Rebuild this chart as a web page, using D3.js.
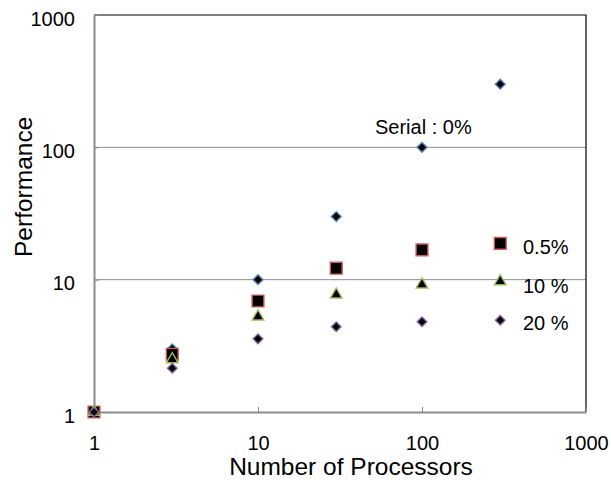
<!DOCTYPE html>
<html lang="en">
<head>
<meta charset="utf-8">
<title>Performance vs Processors</title>
<script src="https://cdn.jsdelivr.net/npm/d3@7"></script>
<style>
  body { margin: 0; background: #fff; }
  text { font-family: "Liberation Sans", Arial, sans-serif; fill: #000; }
</style>
</head>
<body>
<div id="chart"></div>
<script>
// ---------- data ----------
var processors = [1, 3, 10, 30, 100, 300];
var serial0  = [1, 3, 10, 30, 100, 300];
var serial05 = [1, 2.73, 6.9, 12.2, 16.8, 18.8];
var serial10 = [1, 2.5, 5.26, 7.7, 9.17, 9.7];
var serial20 = [1, 2.14, 3.57, 4.41, 4.81, 4.94];
var tickVals = [1, 10, 100, 1000];

var width = 611, height = 496;
var margin = {top: 15, right: 25, bottom: 84, left: 94};

var svg = d3.select("#chart").append("svg")
  .attr("width", width)
  .attr("height", height);

var x = d3.scaleLog().domain([1, 1000]).range([margin.left, width - margin.right]);
var y = d3.scaleLog().domain([1, 1000]).range([height - margin.bottom, margin.top]);

// gridlines at 10 and 100
svg.append("g").selectAll("line")
  .data([10, 100])
  .join("line")
  .attr("x1", x(1)).attr("x2", x(1000))
  .attr("y1", d => y(d)).attr("y2", d => y(d))
  .attr("stroke", "#8c8c8c")
  .attr("stroke-width", 1);

// top / right border
svg.append("path")
  .attr("d", "M" + x(1) + "," + y(1000) + "H" + x(1000) + "V" + y(1))
  .attr("fill", "none")
  .attr("stroke", "#000")
  .attr("stroke-width", 1.2);

// axes
var xAxis = d3.axisBottom(x).tickValues(tickVals).tickFormat(d3.format("d")).tickSizeInner(-5).tickSizeOuter(0).tickPadding(24);
var yAxis = d3.axisLeft(y).tickValues(tickVals).tickFormat(d3.format("d")).tickSizeInner(-5).tickSizeOuter(0).tickPadding(19);

var gx = svg.append("g").attr("transform", "translate(0," + y(1) + ")").call(xAxis);
var gy = svg.append("g").attr("transform", "translate(" + x(1) + ",0)").call(yAxis);
[gx, gy].forEach(function(g) {
  g.attr("font-size", 20).attr("font-family", "Liberation Sans, Arial, sans-serif");
  g.select(".domain").attr("stroke", "#8c8c8c").attr("stroke-width", 2);
  g.selectAll(".tick line").attr("stroke", "#8c8c8c");
});
gy.selectAll(".tick text").attr("dy", "0.5em");

// axis titles
svg.append("text")
  .attr("x", 351).attr("y", 475)
  .attr("text-anchor", "middle")
  .attr("font-size", 24.5)
  .text("Number of Processors");

svg.append("text")
  .attr("transform", "translate(32,257) rotate(-90)")
  .attr("text-anchor", "start")
  .attr("font-size", 24.5)
  .text("Performance");

// series
var diamond = {draw: function(ctx, size) {
  var r = Math.sqrt(size) / Math.SQRT2;
  ctx.moveTo(0, -r); ctx.lineTo(r, 0); ctx.lineTo(0, r); ctx.lineTo(-r, 0); ctx.closePath();
}};

var series = [
  {name: "0%",   values: serial0,  shape: diamond,          size: 48,  stroke: "#4f81bd"},
  {name: "0.5%", values: serial05, shape: d3.symbolSquare,  size: 140, stroke: "#d05a5a"},
  {name: "10%",  values: serial10, shape: d3.symbolTriangle, size: 58, stroke: "#9bbb59"},
  {name: "20%",  values: serial20, shape: diamond,          size: 46,  stroke: "#8064a2"}
];

series.forEach(function(s) {
  svg.append("g").selectAll("path")
    .data(processors.map((p, i) => [p, s.values[i]]))
    .join("path")
    .attr("d", d3.symbol().type(s.shape).size(s.size))
    .attr("transform", d => "translate(" + x(d[0]) + "," + y(d[1]) + ")")
    .attr("fill", "#000")
    .attr("stroke", s.stroke)
    .attr("stroke-width", 1.4);
});

// labels
svg.append("text").attr("x", 375).attr("y", 134).attr("font-size", 20).text("Serial : 0%");
svg.append("text").attr("x", 523).attr("y", 254).attr("font-size", 20).text("0.5%");
svg.append("text").attr("x", 523).attr("y", 293).attr("font-size", 20).text("10 %");
svg.append("text").attr("x", 523).attr("y", 330).attr("font-size", 20).text("20 %");
</script>
</body>
</html>
